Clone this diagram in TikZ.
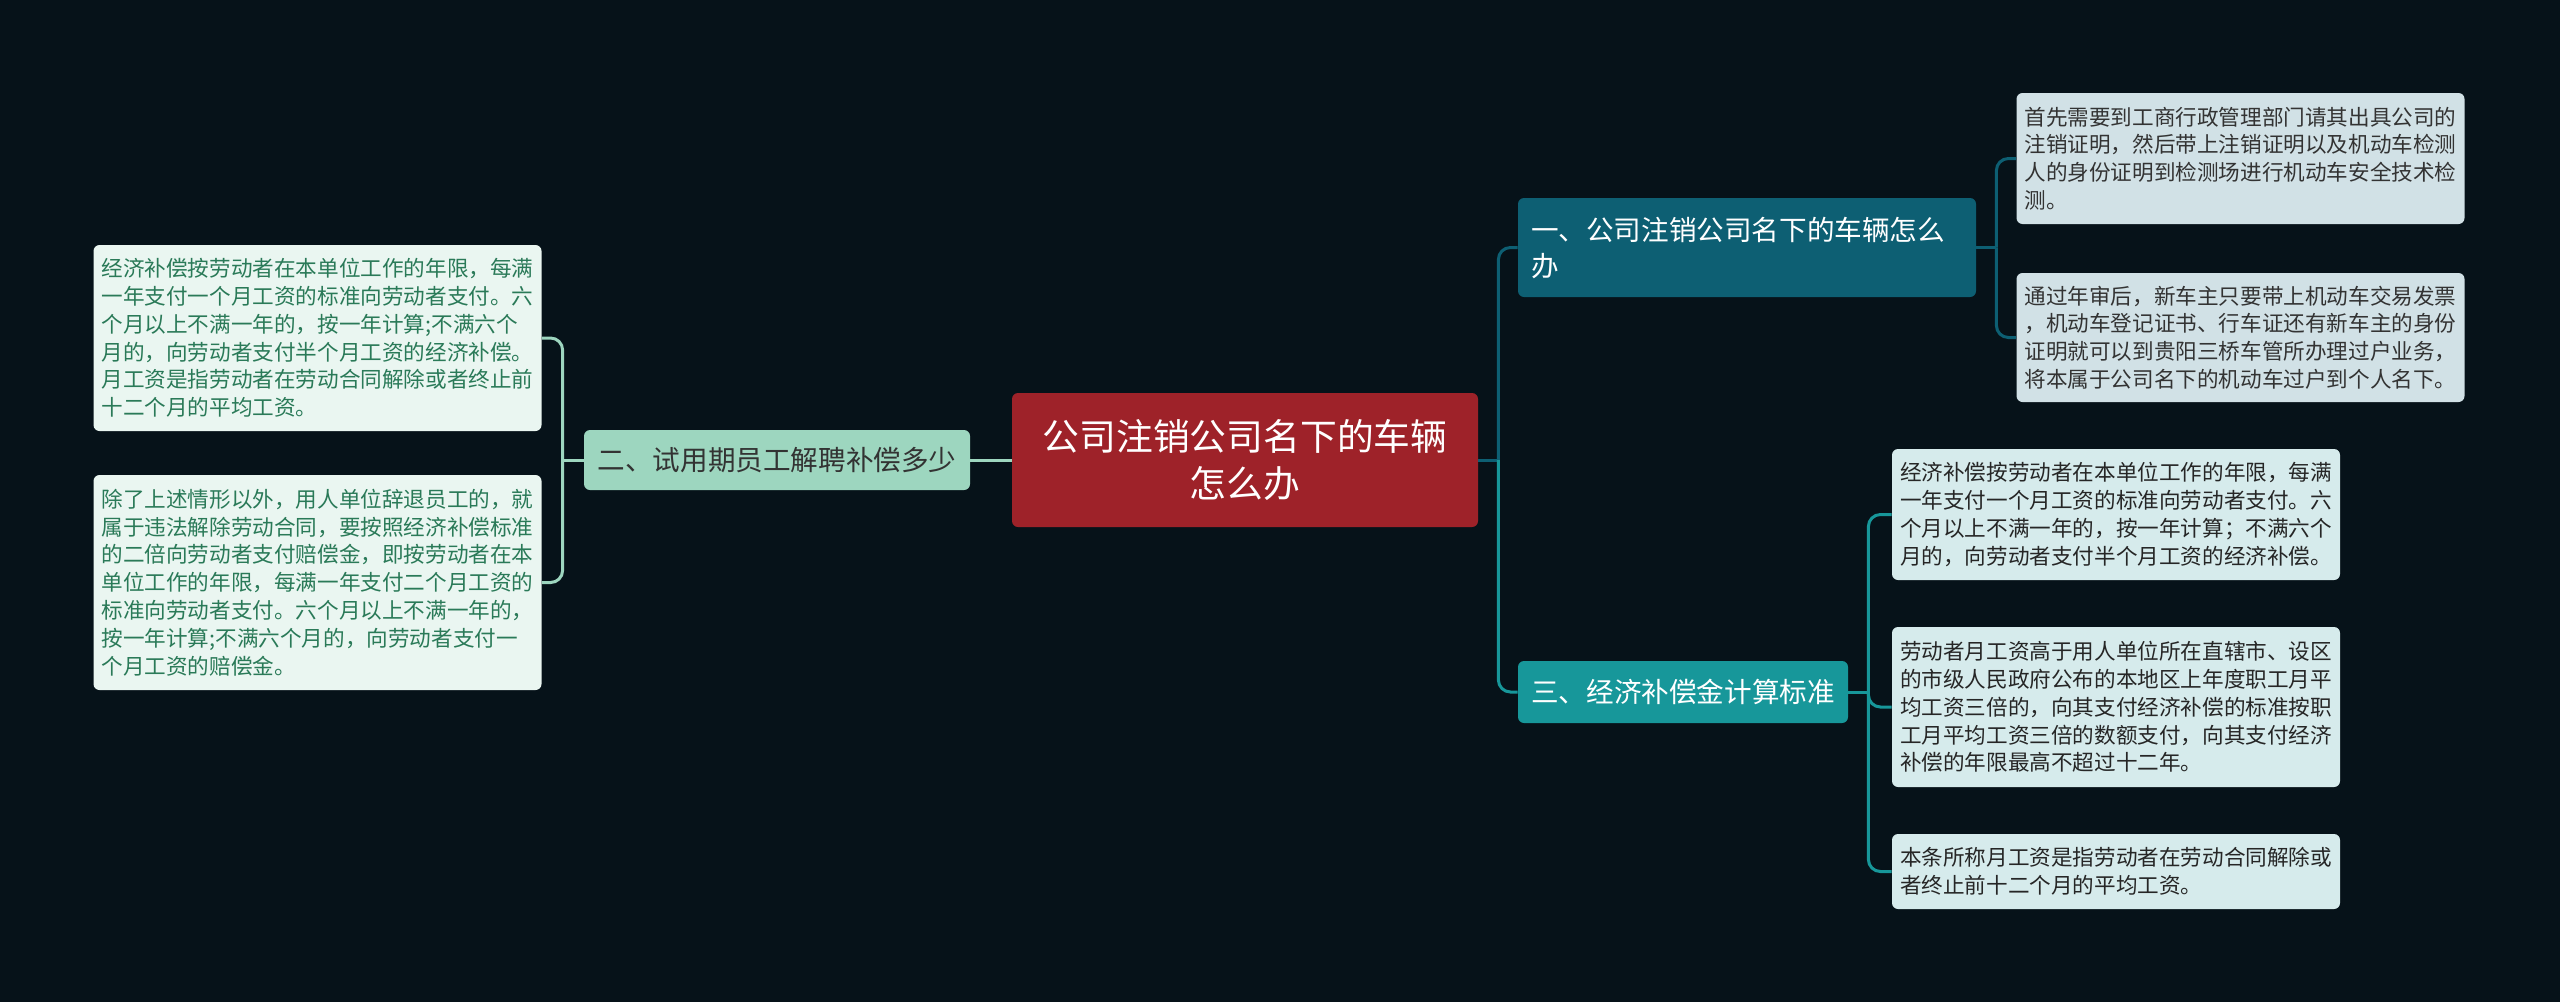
\documentclass[tikz,border=0pt]{standalone}
\usepackage{fontspec}
\newfontfamily\cjkfont{Noto Sans CJK SC}
\usetikzlibrary{calc}

\definecolor{bgcolor}{HTML}{061219}
\definecolor{rootred}{HTML}{9E2229}
\definecolor{darkteal}{HTML}{0D5F73}
\definecolor{midteal}{HTML}{17979A}
\definecolor{mint}{HTML}{9DD6BF}
\definecolor{leafblue}{HTML}{D1E1E6}
\definecolor{leafcyan}{HTML}{D6EBEC}
\definecolor{leafmint}{HTML}{EAF6F1}
\definecolor{leafgreen}{HTML}{2A7A58}

\tikzset{
    box/.style={rounded corners=3pt, inner xsep=4pt, inner ysep=3pt},
    leaf/.style={box, text width=216pt, align=left, font=\cjkfont\fontsize{10.8}{13.9}\selectfont},
    branch/.style={box, font=\cjkfont\fontsize{13.8}{18}\selectfont},
    link/.style={line width=1.5pt},
}

\begin{document}
\begin{tikzpicture}[x=0.5pt, y=-0.5pt]
            \fill[bgcolor] (0,0) rectangle (2560,1002);
            \useasboundingbox (0,0) rectangle (2560,1002);

            % centre
            \node[box, fill=rootred, text=white, minimum width=233pt, minimum height=67pt, align=center,
                font=\cjkfont\fontsize{18.4}{23.7}\selectfont] (root) at (1245,460) {公司注销公司名下的车辆\\怎么办};

            % right side
            \node[branch, fill=darkteal, text=white, text width=216pt, align=left, inner xsep=6.5pt, minimum height=49.5pt] (b1) at (1747,247.5) {一、公司注销公司名下的车辆怎么\\办};
            \node[branch, fill=midteal, text=white, minimum width=165pt, minimum height=31pt] (b3) at (1683,692) {三、经济补偿金计算标准};

            \node[leaf, fill=leafblue, text=black!80, minimum height=65.5pt] (l1a) at (2240.5,158.5) {首先需要到工商行政管理部门请其出具公司的\\注销证明，然后带上注销证明以及机动车检测\\人的身份证明到检测场进行机动车安全技术检\\测。};
            \node[leaf, fill=leafblue, text=black!80, minimum height=64.5pt] (l1b) at (2240.5,337.5) {通过年审后，新车主只要带上机动车交易发票\\，机动车登记证书、行车证还有新车主的身份\\证明就可以到贵阳三桥车管所办理过户业务，\\将本属于公司名下的机动车过户到个人名下。};

            \node[leaf, fill=leafcyan, text=black!85, minimum height=65.5pt] (l3a) at (2116,514.5) {经济补偿按劳动者在本单位工作的年限，每满\\一年支付一个月工资的标准向劳动者支付。六\\个月以上不满一年的，按一年计算；不满六个\\月的，向劳动者支付半个月工资的经济补偿。};
            \node[leaf, fill=leafcyan, text=black!85, minimum height=80pt] (l3b) at (2116,707) {劳动者月工资高于用人单位所在直辖市、设区\\的市级人民政府公布的本地区上年度职工月平\\均工资三倍的，向其支付经济补偿的标准按职\\工月平均工资三倍的数额支付，向其支付经济\\补偿的年限最高不超过十二年。};
            \node[leaf, fill=leafcyan, text=black!85, minimum height=37.5pt] (l3c) at (2116,871.5) {本条所称月工资是指劳动者在劳动合同解除或\\者终止前十二个月的平均工资。};

            % left side
            \node[branch, fill=mint, text=black!80, minimum width=193pt, minimum height=30pt] (b2) at (777,460) {二、试用期员工解聘补偿多少};

            \node[leaf, fill=leafmint, text=leafgreen, minimum height=93pt] (l2a) at (317.5,338) {经济补偿按劳动者在本单位工作的年限，每满\\一年支付一个月工资的标准向劳动者支付。六\\个月以上不满一年的，按一年计算;不满六个\\月的，向劳动者支付半个月工资的经济补偿。\\月工资是指劳动者在劳动合同解除或者终止前\\十二个月的平均工资。};
            \node[leaf, fill=leafmint, text=leafgreen, minimum height=107.5pt] (l2b) at (317.5,582.5) {除了上述情形以外，用人单位辞退员工的，就\\属于违法解除劳动合同，要按照经济补偿标准\\的二倍向劳动者支付赔偿金，即按劳动者在本\\单位工作的年限，每满一年支付二个月工资的\\标准向劳动者支付。六个月以上不满一年的，\\按一年计算;不满六个月的，向劳动者支付一\\个月工资的赔偿金。};

            % connectors
            \coordinate (jr) at ($(root.east)+(20,0)$);
            \coordinate (j1) at ($(b1.east)+(20,0)$);
            \coordinate (j3) at ($(b3.east)+(20,0)$);
            \coordinate (j2) at ($(b2.west)+(-21,0)$);

            \draw[link, darkteal] (root.east) -- (jr);
            \draw[link, darkteal, rounded corners=6pt] (jr) |- (b1.west);
            \draw[link, midteal, rounded corners=6pt] (jr) |- (b3.west);

            \draw[link, darkteal] (b1.east) -- (j1);
            \draw[link, darkteal, rounded corners=6pt] (j1) |- (l1a.west);
            \draw[link, darkteal, rounded corners=6pt] (j1) |- (l1b.west);

            \draw[link, midteal] (b3.east) -- (j3);
            \draw[link, midteal, rounded corners=6pt] (j3) |- (l3a.west);
            \draw[link, midteal, rounded corners=6pt] (j3) |- (l3b.west);
            \draw[link, midteal, rounded corners=6pt] (j3) |- (l3c.west);

            \draw[link, mint] (root.west) -- (b2.east);
            \draw[link, mint] (b2.west) -- (j2);
            \draw[link, mint, rounded corners=6pt] (j2) |- (l2a.east);
            \draw[link, mint, rounded corners=6pt] (j2) |- (l2b.east);
\end{tikzpicture}
\end{document}
